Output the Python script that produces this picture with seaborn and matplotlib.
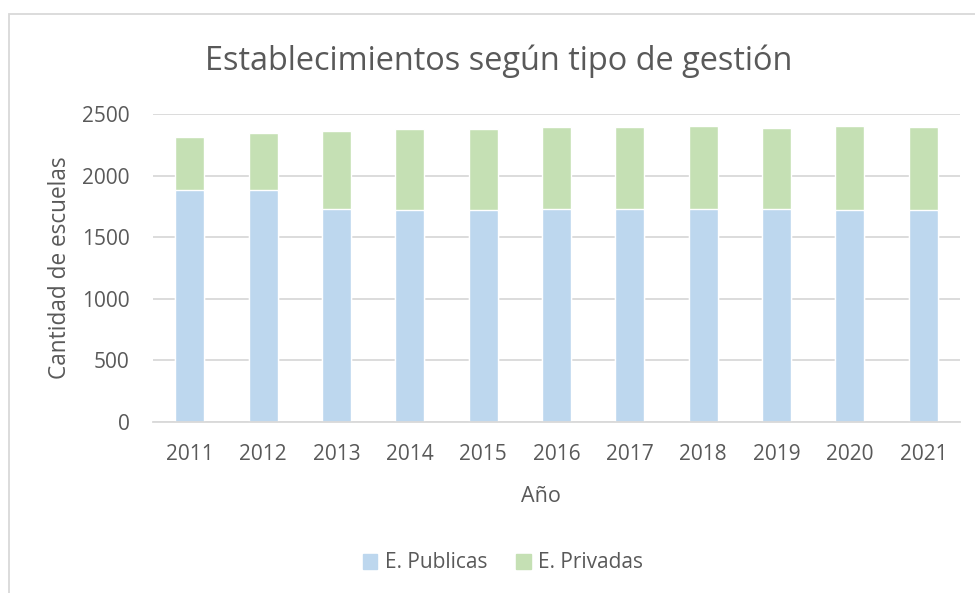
import matplotlib
matplotlib.use("Agg")
import matplotlib.pyplot as plt
import matplotlib.patches as mpatches
import numpy as np
import pandas as pd
import seaborn as sns

# valores
years = ["2011", "2012", "2013", "2014", "2015", "2016",
         "2017", "2018", "2019", "2020", "2021"]
publicas = [1882, 1882, 1728, 1720, 1718, 1725, 1725, 1727, 1725, 1718, 1718]
privadas = [434, 464, 634, 656, 660, 670, 672, 676, 665, 682, 679]

BLUE = "#BDD7EE"
GREEN = "#C5E0B4"
TXT = "#595959"
GRID = "#D9D9D9"

sns.set_theme(style="white")
plt.rcParams["font.family"] = ["Open Sans", "DejaVu Sans"]

df = pd.DataFrame({"Año": years, "E. Publicas": publicas, "E. Privadas": privadas})
df["total"] = df["E. Publicas"] + df["E. Privadas"]

W, H = 975, 593
fig = plt.figure(figsize=(W / 100, H / 100), dpi=100)
ax = fig.add_axes([153 / W, 1 - 421.7 / H, (960 - 153) / W, (421.7 - 114) / H])

# apilado: total (verde) debajo, publicas (azul) encima
sns.barplot(data=df, x="Año", y="total", color=GREEN, width=0.395,
            saturation=1, ax=ax)
sns.barplot(data=df, x="Año", y="E. Publicas", color=BLUE, width=0.395,
            saturation=1, ax=ax)

ax.set_ylim(0, 2500)
ax.set_yticks(np.arange(0, 2501, 500))
ax.set_xlim(-0.5, len(years) - 0.5)
ax.yaxis.grid(True, color=GRID, linewidth=1.3)
ax.set_axisbelow(True)
for s in ["top", "right", "left"]:
    ax.spines[s].set_visible(False)
ax.spines["bottom"].set_color(GRID)
ax.spines["bottom"].set_linewidth(1.3)
ax.tick_params(axis="both", length=0, labelsize=15, colors=TXT)
ax.tick_params(axis="x", pad=16)
ax.tick_params(axis="y", pad=17)
ax.set_xlabel("")
ax.set_ylabel("")

fig.text(541 / W, 1 - 497 / H, "Año", ha="center", va="center",
         fontsize=15.5, color=TXT)
fig.text(60 / W, 1 - 268 / H, "Cantidad de escuelas", ha="center",
         va="center", rotation=90, fontsize=16.3, color=TXT)
fig.text(499 / W, 1 - 61 / H, "Establecimientos según tipo de gestión",
         ha="center", va="center", fontsize=23.4, color=TXT)

handles = [mpatches.Patch(color=BLUE, label="E. Publicas"),
           mpatches.Patch(color=GREEN, label="E. Privadas")]
fig.legend(handles=handles, loc="center", bbox_to_anchor=(503 / W, 1 - 563 / H),
           ncol=2, frameon=False, fontsize=15, labelcolor=TXT,
           handlelength=0.7, handleheight=0.7, handletextpad=0.35,
           columnspacing=1.4)

# borde del area del grafico
fig.patches.append(mpatches.Rectangle((9 / W, -0.1), 1.2, 1 - 14 / H + 0.1,
                                      transform=fig.transFigure, fill=False,
                                      edgecolor=GRID, linewidth=1.3))

fig.savefig("out.png", dpi=100)
